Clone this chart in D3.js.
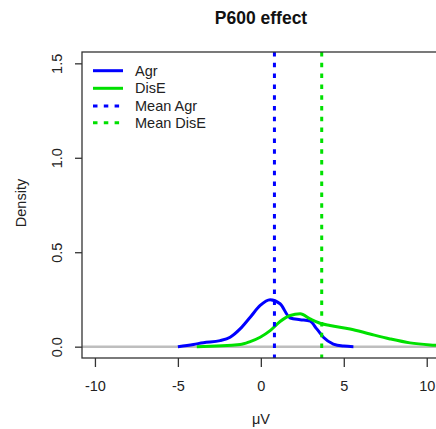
<!DOCTYPE html>
<html><head><meta charset="utf-8">
<script src="https://cdn.jsdelivr.net/npm/d3@7"></script>
<style>body{margin:0;background:#fff;} svg{display:block;}</style>
</head><body>
<svg id="c" width="436" height="429"></svg>
<script>
const title = "P600 effect";
const xLabel = "\u03bcV";
const yLabel = "Density";
const xTicks = [-10, -5, 0, 5, 10];
const xTickLabels = ["-10", "-5", "0", "5", "10"];
const yTicks = [0, 0.5, 1.0, 1.5];
const yTickLabels = ["0.0", "0.5", "1.0", "1.5"];
const seriesNames = ["Agr", "DisE"];
const seriesColors = ["#0000ff", "#00e000"];
const agrX = [-5.0, -4.06, -3.46, -2.45, -1.85, -1.25, -0.64, -0.04, 0.56, 1.16, 1.77, 2.37, 2.97, 3.37, 3.77, 4.37, 5.0, 5.58];
const agrY = [0.0, 0.012, 0.021, 0.032, 0.05, 0.094, 0.156, 0.218, 0.248, 0.227, 0.152, 0.143, 0.135, 0.094, 0.05, 0.014, 0.003, 0.0];
const diseX = [-3.86, -1.25, -0.64, -0.04, 0.56, 1.16, 1.77, 2.37, 2.97, 3.57, 4.17, 5.38, 6.58, 7.79, 8.99, 10.2, 11.0];
const diseY = [0.0, 0.011, 0.027, 0.05, 0.085, 0.133, 0.165, 0.174, 0.147, 0.124, 0.112, 0.094, 0.067, 0.041, 0.02, 0.009, 0.005];
const means = [0.82, 3.67];
const legendLabels = ["Agr", "DisE", "Mean Agr", "Mean DisE"];

const svg = d3.select("#c");
const L = 82, R = 440, T = 52, B = 358;
const x = d3.scaleLinear().domain([-10.78, 10.8]).range([L, R]);
const y = d3.scaleLinear().domain([-0.06, 1.56]).range([B, T]);
const font = "'Liberation Sans', Arial, sans-serif";
const fs = 14.5;

// zero line
svg.append("line").attr("x1", L).attr("x2", R).attr("y1", y(0)).attr("y2", y(0))
  .attr("stroke", "#bebebe").attr("stroke-width", 2.5);

const line = d3.line().x(d => x(d[0])).y(d => y(d[1])).curve(d3.curveMonotoneX);
const series = [d3.zip(agrX, agrY), d3.zip(diseX, diseY)];
svg.append("defs").append("clipPath").attr("id", "clip").append("rect")
  .attr("x", L).attr("y", T).attr("width", R - L).attr("height", B - T);
const g = svg.append("g").attr("clip-path", "url(#clip)");
series.forEach((s, i) => {
  g.append("path").attr("d", line(s)).attr("fill", "none")
    .attr("stroke", seriesColors[i]).attr("stroke-width", 3).attr("stroke-linejoin", "round");
});
means.forEach((m, i) => {
  g.append("line").attr("x1", x(m)).attr("x2", x(m)).attr("y1", T).attr("y2", B)
    .attr("stroke", seriesColors[i]).attr("stroke-width", 3).attr("stroke-dasharray", "4.5 6.3");
});

// box
svg.append("rect").attr("x", L).attr("y", T).attr("width", R - L).attr("height", B - T)
  .attr("fill", "none").attr("stroke", "#333").attr("stroke-width", 1.3);

// x axis
const xa = svg.append("g").attr("transform", `translate(0,${B})`)
  .call(d3.axisBottom(x).tickValues(xTicks).tickSize(9).tickPadding(0).tickFormat((d, i) => xTickLabels[i]));
xa.select(".domain").remove();
xa.selectAll("line").attr("stroke", "#333").attr("stroke-width", 1.3);
xa.selectAll("text").attr("font-family", font).attr("font-size", fs).attr("fill", "#222")
  .attr("y", 32.7).attr("dy", null);

// y axis
const ya = svg.append("g").attr("transform", `translate(${L},0)`)
  .call(d3.axisLeft(y).tickValues(yTicks).tickSize(7).tickFormat((d, i) => yTickLabels[i]));
ya.select(".domain").remove();
ya.selectAll("line").attr("stroke", "#333").attr("stroke-width", 1.3);
ya.selectAll("text").attr("font-family", font).attr("font-size", fs).attr("fill", "#222")
  .attr("x", null).attr("text-anchor", "middle")
  .attr("transform", "translate(-25,0) rotate(-90)").attr("y", 0).attr("dy", "0.35em");

// labels
svg.append("text").attr("x", 261).attr("y", 24).attr("text-anchor", "middle")
  .attr("font-family", font).attr("font-weight", "bold").attr("font-size", 17.5).attr("fill", "#111").text(title);
svg.append("text").attr("x", 261).attr("y", 423.5).attr("text-anchor", "middle")
  .attr("font-family", font).attr("font-size", fs).attr("fill", "#222").text(xLabel);
svg.append("text").attr("transform", "translate(25.5,203) rotate(-90)").attr("text-anchor", "middle")
  .attr("font-family", font).attr("font-size", fs).attr("fill", "#222").text(yLabel);

// legend
const ly = [70.7, 88.3, 106, 122.7];
legendLabels.forEach((lab, i) => {
  const col = seriesColors[i % 2];
  svg.append("line").attr("x1", 93).attr("x2", 123).attr("y1", ly[i]).attr("y2", ly[i])
    .attr("stroke", col).attr("stroke-width", 3)
    .attr("stroke-dasharray", i >= 2 ? "4.5 6.3" : null);
  svg.append("text").attr("x", 135).attr("y", ly[i]).attr("dy", "0.35em")
    .attr("font-family", font).attr("font-size", fs).attr("fill", "#222").text(lab);
});
</script>
</body></html>
